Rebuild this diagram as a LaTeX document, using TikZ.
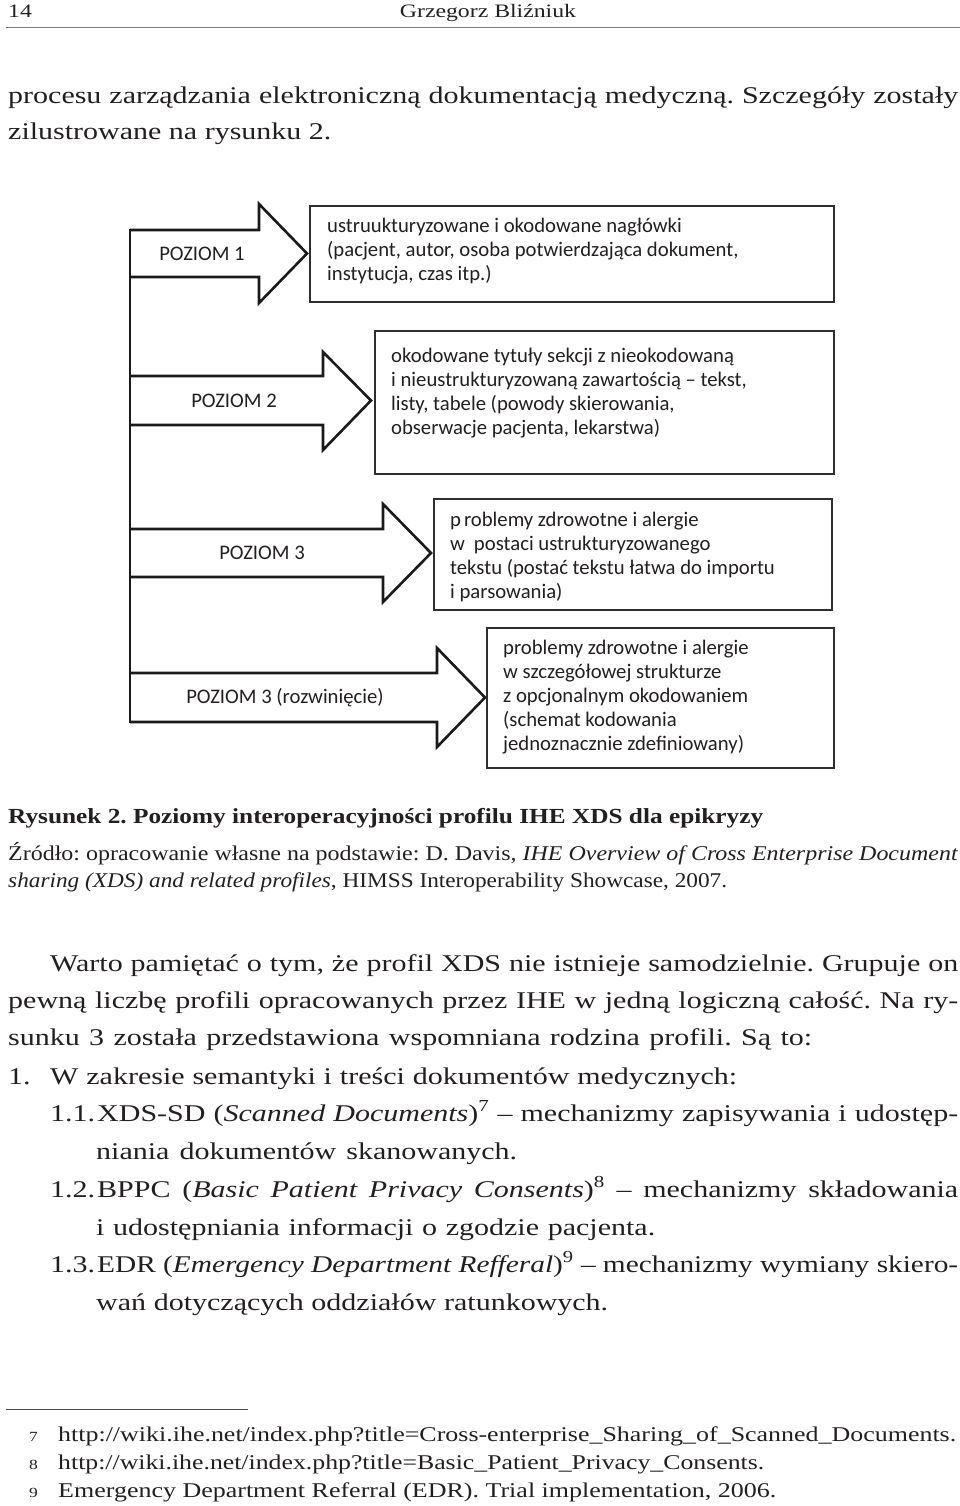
\documentclass[tikz,border=0pt]{standalone}
\usepackage{fontspec}
\usepackage{graphicx}
\setmainfont{Liberation Serif}[FakeStretch=1.25]
\newfontfamily\diagfont{Carlito}
\definecolor{ink}{HTML}{231F20}
\definecolor{arrc}{HTML}{1A1A1A}
\definecolor{boxc}{HTML}{2E2E2E}
\frenchspacing
\newsavebox\jbox
\newcommand\jline[2]{\sbox\jbox{#2}\ifdim\wd\jbox>#1\relax\pgfmathsetmacro\jsc{#1/\the\wd\jbox}\scalebox{\jsc}[1]{\usebox\jbox}\else\makebox[#1][s]{#2}\fi}
\tikzset{
  body/.style={inner sep=0pt, anchor=base west, text=ink, font=\fontsize{24}{24}\selectfont},
  capt/.style={inner sep=0pt, anchor=base west, text=ink, font=\bfseries\fontsize{21.5}{24}\selectfont},
  src/.style={inner sep=0pt, anchor=base west, text=ink, font=\fontsize{21}{24}\selectfont},
  head/.style={inner sep=0pt, text=ink, font=\fontsize{19}{20}\selectfont},
  fnum/.style={inner sep=0pt, anchor=base west, text=ink, font=\fontsize{14}{16}\selectfont},
  fnote/.style={inner sep=0pt, anchor=base west, text=ink, font=\fontsize{21}{24}\selectfont},
  lvl/.style={inner sep=0pt, text=ink, font=\diagfont\fontsize{20.7}{24}\selectfont},
  btxt/.style={inner sep=0pt, anchor=west, align=left, text=ink, font=\diagfont\fontsize{20.7}{24}\selectfont},
  infobox/.style={draw=boxc, line width=1.6pt, inner sep=0pt},
  fork/.style={draw=arrc, line width=2.6pt, line join=miter},
}
\begin{document}
\begin{tikzpicture}[x=1pt,y=-1pt]
\useasboundingbox (0,0) rectangle (960,1506);
\fill[white] (0,0) rectangle (960,1506);

% header
\node[head, anchor=base west] (pnum) at (8,18) {14};
\node[head, anchor=base] (author) at (488,18) {Grzegorz Bliźniuk};
\draw[gray, line width=1.2pt] (6,27.5) -- (960,27.5);

% first text
\node[body] (b1) at (8,104) {\jline{950pt}{procesu zarządzania elektroniczną dokumentacją medyczną. Szczegóły zostały}};
\node[body] (b2) at (8,140) {zilustrowane na rysunku 2.};

% diagram: fork with arrows
\draw[fork] (130,228.7) -- (130,723.3);
\draw[fork] (130,230) -- (259,230) -- (259,204) -- (307,253.5) -- (259,303) -- (259,277) -- (130,277);
\draw[fork] (130,376) -- (323,376) -- (323,352) -- (371,400.5) -- (323,450) -- (323,425) -- (130,425);
\draw[fork] (130,529) -- (383,529) -- (383,504) -- (431,553) -- (383,602) -- (383,577) -- (130,577);
\draw[fork] (130,673) -- (437,673) -- (437,648) -- (485,697.5) -- (437,747) -- (437,722) -- (130,722);

\node[lvl] (p1) at (202,254) {POZIOM 1};
\node[lvl] (p2) at (234,401) {POZIOM 2};
\node[lvl] (p3) at (262,553) {POZIOM 3};
\node[lvl] (p4) at (285,698) {POZIOM 3 (rozwinięcie)};

\node[infobox, minimum width=524pt, minimum height=96pt] (box1) at (572,254) {};
\node[infobox, minimum width=459pt, minimum height=143pt] (box2) at (604.5,402.5) {};
\node[infobox, minimum width=398pt, minimum height=111pt] (box3) at (633,554.5) {};
\node[infobox, minimum width=347pt, minimum height=140pt] (box4) at (660.5,698) {};

\node[btxt] (t1) at (327,251) {ustruukturyzowane i okodowane nagłówki\\(pacjent, autor, osoba potwierdzająca dokument,\\instytucja, czas itp.)};
\node[btxt] (t2) at (391,393) {okodowane tytuły sekcji z nieokodowaną\\i nieustrukturyzowaną zawartością – tekst,\\listy, tabele (powody skierowania,\\obserwacje pacjenta, lekarstwa)};
\node[btxt] (t3) at (450,557) {p\hspace{3pt}roblemy zdrowotne i alergie\\w\hspace{9pt}postaci ustrukturyzowanego\\tekstu (postać tekstu łatwa do importu\\i parsowania)};
\node[btxt] (t4) at (503,697.5) {problemy zdrowotne i alergie\\w szczegółowej strukturze\\z opcjonalnym okodowaniem\\(schemat kodowania\\jednoznacznie zdefiniowany)};

% caption
\node[capt] (cap) at (8,823) {\jline{755pt}{Rysunek 2. Poziomy interoperacyjności profilu IHE XDS dla epikryzy}};
\node[src] (s1) at (8,860) {\jline{950pt}{Źródło: opracowanie własne na podstawie: D. Davis, \textit{IHE Overview of Cross Enterprise Document}}};
\node[src] (s2) at (8,887) {\jline{719pt}{\textit{sharing (XDS) and related profiles}, HIMSS Interoperability Showcase, 2007.}};

% paragraph
\node[body] (q1) at (50,971) {\jline{908pt}{Warto pamiętać o tym, że profil XDS nie istnieje samodzielnie. Grupuje on}};
\node[body] (q2) at (8,1008) {\jline{950pt}{pewną liczbę profili opracowanych przez IHE w jedną logiczną całość. Na ry-}};
\node[body] (q3) at (8,1045) {\jline{804pt}{sunku 3 została przedstawiona wspomniana rodzina profili. Są to:}};
\node[body] (n1) at (8,1084) {1.};
\node[body] (q4) at (50,1084) {\jline{687pt}{W zakresie semantyki i treści dokumentów medycznych:}};
\node[body] (n11) at (50,1121) {1.1.};
\node[body] (q5) at (97,1121) {\jline{861pt}{XDS-SD (\textit{Scanned Documents})\textsuperscript{7} – mechanizmy zapisywania i udostęp-}};
\node[body] (q6) at (96,1159) {\jline{421pt}{niania dokumentów skanowanych.}};
\node[body] (n12) at (50,1197) {1.2.};
\node[body] (q7) at (97,1197) {\jline{861pt}{BPPC (\textit{Basic Patient Privacy Consents})\textsuperscript{8} – mechanizmy składowania}};
\node[body] (q8) at (96,1235) {\jline{559pt}{i udostępniania informacji o zgodzie pacjenta.}};
\node[body] (n13) at (50,1272) {1.3.};
\node[body] (q9) at (97,1272) {\jline{861pt}{EDR (\textit{Emergency Department Refferal})\textsuperscript{9} – mechanizmy wymiany skiero-}};
\node[body] (q10) at (96,1310) {\jline{512pt}{wań dotyczących oddziałów ratunkowych.}};

% footnotes
\draw[ink!80, line width=1pt] (6,1409) -- (248,1409);
\node[fnum] (f7) at (29,1441) {7};
\node[fnote] (fn1) at (58,1441) {\jline{898pt}{http://wiki.ihe.net/index.php?title=Cross-enterprise\_Sharing\_of\_Scanned\_Documents.}};
\node[fnum] (f8) at (29,1469) {8};
\node[fnote] (fn2) at (58,1469) {\jline{706pt}{http://wiki.ihe.net/index.php?title=Basic\_Patient\_Privacy\_Consents.}};
\node[fnum] (f9) at (29,1497) {9};
\node[fnote] (fn3) at (58,1497) {\jline{718pt}{Emergency Department Referral (EDR). Trial implementation, 2006.}};
\end{tikzpicture}
\end{document}
